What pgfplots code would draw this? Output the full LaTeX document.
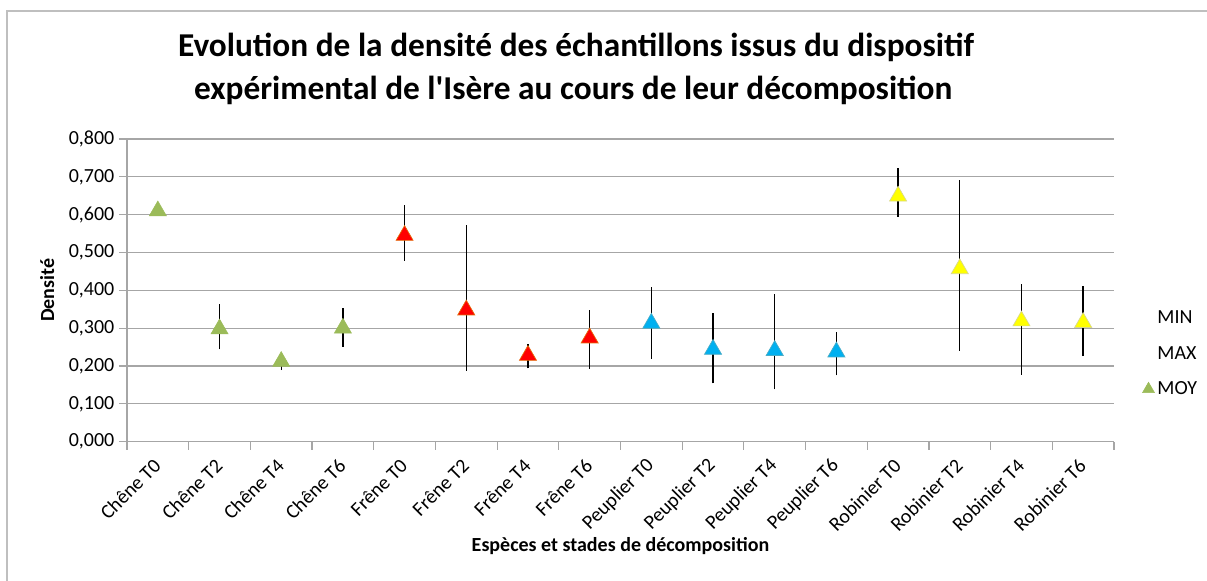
\documentclass[border=0pt]{standalone}
\usepackage{pgfplots}
\pgfplotsset{compat=1.18}
\usepackage{pgfplotstable}
\usepackage{fontspec}
\setmainfont{Carlito}
% same face without TeX ligatures, so that ' stays a straight quote
\newfontfamily\titlefont{Carlito}

\definecolor{gridgray}{HTML}{A6A6A6}
\definecolor{framegray}{HTML}{BFBFBF}
\definecolor{chene}{HTML}{9BBB59}
\definecolor{frene}{HTML}{FF0000}
\definecolor{freneedge}{HTML}{E46C0A}
\definecolor{peuplier}{HTML}{00B0F0}
\definecolor{peuplieredge}{HTML}{4BACC6}
\definecolor{robinier}{HTML}{FFFF00}
\definecolor{robinieredge}{HTML}{D8D890}

% density per sample: min, max and mean
\pgfplotstableread{
x  min    max    moy
0  0.600  0.618  0.610
1  0.244  0.364  0.298
2  0.189  0.220  0.212
3  0.251  0.352  0.300
4  0.478  0.625  0.545
5  0.188  0.572  0.348
6  0.194  0.257  0.228
7  0.193  0.348  0.274
8  0.219  0.408  0.313
9  0.154  0.341  0.244
10 0.138  0.390  0.241
11 0.175  0.289  0.237
12 0.595  0.724  0.649
13 0.240  0.692  0.457
14 0.177  0.418  0.319
15 0.226  0.411  0.315
}\densite

\begin{document}
\begin{tikzpicture}
\useasboundingbox (0pt,0pt) rectangle (905.25pt,435.75pt);
\draw[framegray, line width=1.5pt] (5.25pt,-2pt) -- (5.25pt,427.5pt) -- (908pt,427.5pt);

\begin{axis}[
  scale only axis,
  width=740.25pt, height=227pt,
  anchor=south west, at={(95.25pt,104.5pt)},
  xmin=-0.5, xmax=15.5,
  ymin=0, ymax=0.8,
  ytick={0,0.1,...,0.8},
  yticklabel={\pgfmathprintnumber[fixed,fixed zerofill,precision=3,use comma]{\tick}},
  /pgf/number format/assume math mode=true,
  xtick={0,...,15},
  xticklabels={Chêne T0,Chêne T2,Chêne T4,Chêne T6,Frêne T0,Frêne T2,Frêne T4,Frêne T6,Peuplier T0,Peuplier T2,Peuplier T4,Peuplier T6,Robinier T0,Robinier T2,Robinier T4,Robinier T6},
  minor xtick={-0.5,0.5,...,15.5},
  major x tick style={draw=none},
  minor x tick style={draw=gridgray, line width=0.9pt},
  ytick style={draw=gridgray, line width=0.9pt},
  tick align=outside,
  major tick length=6pt, minor tick length=6pt,
  axis lines*=left,
  axis line style={-, draw=gridgray, line width=0.9pt},
  ymajorgrids,
  major grid style={gridgray, line width=0.9pt},
  tick label style={font=\fontsize{15}{18}\selectfont, black},
  xticklabel style={yshift=-7pt, xshift=2pt, rotate=45, anchor=east},
  ylabel={Densité},
  ylabel style={font=\fontsize{15}{18}\selectfont\bfseries, rotate=0, anchor=center, at={(axis description cs:-0.081,0.5)}},
  xlabel={Espèces et stades de décomposition},
  xlabel style={font=\fontsize{15}{18}\selectfont\bfseries, anchor=base, at={(axis description cs:0.5,-0.3645)}},
  legend style={draw=none, fill=none, at={(axis description cs:1.027,0.438)}, anchor=north west,
    font=\fontsize{15}{18}\selectfont, row sep=13.5pt, inner sep=0pt, nodes={inner sep=1pt}},
  legend cell align=left,
  legend image code/.code={\path (0pt,0pt) (11pt,0pt); \path[#1, mark size=5.2pt] plot coordinates {(5.5pt,0pt)};},
]
% min-max range as vertical lines
\addplot[forget plot, draw=none, mark=none,
  error bars/.cd, y dir=plus, y explicit, error mark=none,
  error bar style={draw=black, line width=1pt}]
  table[x=x, y=min, y error expr=\thisrow{max}-\thisrow{min}] {\densite};

\addlegendimage{draw=none, mark=none}
\addlegendentry{MIN}
\addlegendimage{draw=none, mark=none}
\addlegendentry{MAX}

% mean values, one colour per species
\addplot[only marks, mark=triangle*, mark size=7.4pt, mark options={fill=chene, draw=chene}]
  table[x=x, y=moy, restrict x to domain=0:3] {\densite};
\addlegendentry{MOY}
\addplot[forget plot, only marks, mark=triangle*, mark size=7.4pt, mark options={fill=frene, draw=freneedge, line width=0.5pt}]
  table[x=x, y=moy, restrict x to domain=4:7] {\densite};
\addplot[forget plot, only marks, mark=triangle*, mark size=7.4pt, mark options={fill=peuplier, draw=peuplieredge, line width=0.5pt}]
  table[x=x, y=moy, restrict x to domain=8:11] {\densite};
\addplot[forget plot, only marks, mark=triangle*, mark size=7.4pt, mark options={fill=robinier, draw=robinieredge, line width=0.5pt}]
  table[x=x, y=moy, restrict x to domain=12:15] {\densite};
\end{axis}

\node[anchor=base, font=\titlefont\fontsize{25}{30}\selectfont\bfseries] at (432pt,393pt)
  {Evolution de la densité des échantillons issus du dispositif};
\node[anchor=base, font=\titlefont\fontsize{25}{30}\selectfont\bfseries] at (430pt,360.75pt)
  {expérimental de l'Isère au cours de leur décomposition};
\end{tikzpicture}
\end{document}
